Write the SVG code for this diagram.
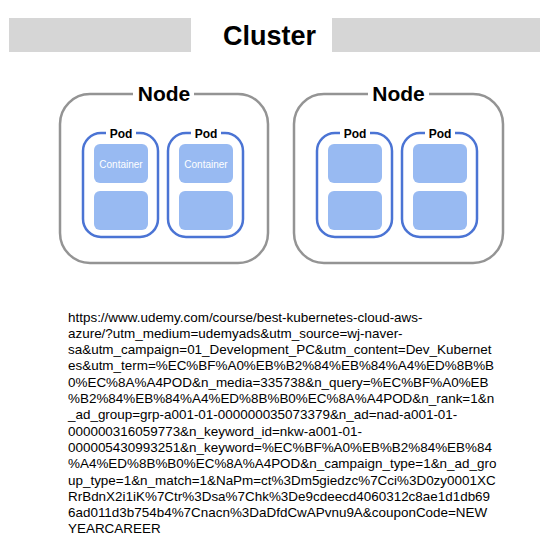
<svg xmlns="http://www.w3.org/2000/svg" width="540" height="539" viewBox="0 0 540 539">
<style>
.bar{fill:#d6d6d6}
.title{font-family:"Liberation Sans",Arial,sans-serif;font-weight:bold;font-size:27px;fill:#000;text-anchor:middle}
.node{fill:#fff;stroke:#949494;stroke-width:2.5}
.nlabel{font-family:"Liberation Sans",Arial,sans-serif;font-weight:bold;font-size:21px;fill:#000;text-anchor:middle}
.pod{fill:#fff;stroke:#4b74d4;stroke-width:2.5}
.plabel{font-family:"Liberation Sans",Arial,sans-serif;font-weight:bold;font-size:12px;fill:#000;text-anchor:middle}
.ctr{fill:#98baf2}
.clabel{font-family:"Liberation Sans",Arial,sans-serif;font-size:10px;fill:#fff;text-anchor:middle}
.url{font-family:"Liberation Sans",Arial,sans-serif;font-size:13.45px;fill:#000}
.gap{fill:#fff}
</style>
<rect width="540" height="539" fill="#fff"/>
<g id="cluster">
<rect class="bar" x="9" y="18" width="182" height="34"/>
<rect class="bar" x="332" y="18" width="208" height="34"/>
<text class="title" x="269.5" y="44.5">Cluster</text>
</g>
<g id="node1">
<rect class="node" x="60" y="94" width="208" height="169" rx="30"/>
<rect class="gap" x="133" y="86" width="61" height="16"/>
<text class="nlabel" x="164" y="101">Node</text>
<g id="pod1a">
<rect class="pod" x="83" y="133" width="75" height="104" rx="18"/>
<rect class="gap" x="106" y="127" width="30" height="12"/>
<text class="plabel" x="121" y="138">Pod</text>
<rect class="ctr" x="94" y="144" width="54" height="39" rx="6"/>
<text class="clabel" x="121" y="167.5">Container</text>
<rect class="ctr" x="94" y="191" width="54" height="39" rx="6"/>
</g>
<g id="pod1b">
<rect class="pod" x="168" y="133" width="75" height="104" rx="18"/>
<rect class="gap" x="191" y="127" width="30" height="12"/>
<text class="plabel" x="206" y="138">Pod</text>
<rect class="ctr" x="179" y="144" width="54" height="39" rx="6"/>
<text class="clabel" x="206" y="167.5">Container</text>
<rect class="ctr" x="179" y="191" width="54" height="39" rx="6"/>
</g>
</g>
<g id="node2">
<rect class="node" x="294" y="94" width="209" height="169" rx="30"/>
<rect class="gap" x="368" y="86" width="61" height="16"/>
<text class="nlabel" x="398.5" y="101">Node</text>
<g id="pod2a">
<rect class="pod" x="317" y="133" width="75" height="104" rx="18"/>
<rect class="gap" x="340" y="127" width="30" height="12"/>
<text class="plabel" x="355" y="138">Pod</text>
<rect class="ctr" x="328" y="144" width="54" height="39" rx="6"/>
<rect class="ctr" x="328" y="191" width="54" height="39" rx="6"/>
</g>
<g id="pod2b">
<rect class="pod" x="402" y="133" width="75" height="104" rx="18"/>
<rect class="gap" x="425" y="127" width="30" height="12"/>
<text class="plabel" x="440" y="138">Pod</text>
<rect class="ctr" x="413" y="144" width="54" height="39" rx="6"/>
<rect class="ctr" x="413" y="191" width="54" height="39" rx="6"/>
</g>
</g>
<g id="connectors"></g>
<g id="url">
<text class="url" x="68" y="321.5">https://www.udemy.com/course/best-kubernetes-cloud-aws-</text>
<text class="url" x="68" y="337.8">azure/?utm_medium=udemyads&amp;utm_source=wj-naver-</text>
<text class="url" x="68" y="354.1">sa&amp;utm_campaign=01_Development_PC&amp;utm_content=Dev_Kubernet</text>
<text class="url" x="68" y="370.4">es&amp;utm_term=%EC%BF%A0%EB%B2%84%EB%84%A4%ED%8B%B</text>
<text class="url" x="68" y="386.7">0%EC%8A%A4POD&amp;n_media=335738&amp;n_query=%EC%BF%A0%EB</text>
<text class="url" x="68" y="403">%B2%84%EB%84%A4%ED%8B%B0%EC%8A%A4POD&amp;n_rank=1&amp;n</text>
<text class="url" x="68" y="419.3">_ad_group=grp-a001-01-000000035073379&amp;n_ad=nad-a001-01-</text>
<text class="url" x="68" y="435.6">000000316059773&amp;n_keyword_id=nkw-a001-01-</text>
<text class="url" x="68" y="451.9">000005430993251&amp;n_keyword=%EC%BF%A0%EB%B2%84%EB%84</text>
<text class="url" x="68" y="468.2">%A4%ED%8B%B0%EC%8A%A4POD&amp;n_campaign_type=1&amp;n_ad_gro</text>
<text class="url" x="68" y="484.5">up_type=1&amp;n_match=1&amp;NaPm=ct%3Dm5giedzc%7Cci%3D0zy0001XC</text>
<text class="url" x="68" y="500.8">RrBdnX2i1iK%7Ctr%3Dsa%7Chk%3De9cdeecd4060312c8ae1d1db69</text>
<text class="url" x="68" y="517.1">6ad011d3b754b4%7Cnacn%3DaDfdCwAPvnu9A&amp;couponCode=NEW</text>
<text class="url" x="68" y="533.4">YEARCAREER</text>
</g>
</svg>
